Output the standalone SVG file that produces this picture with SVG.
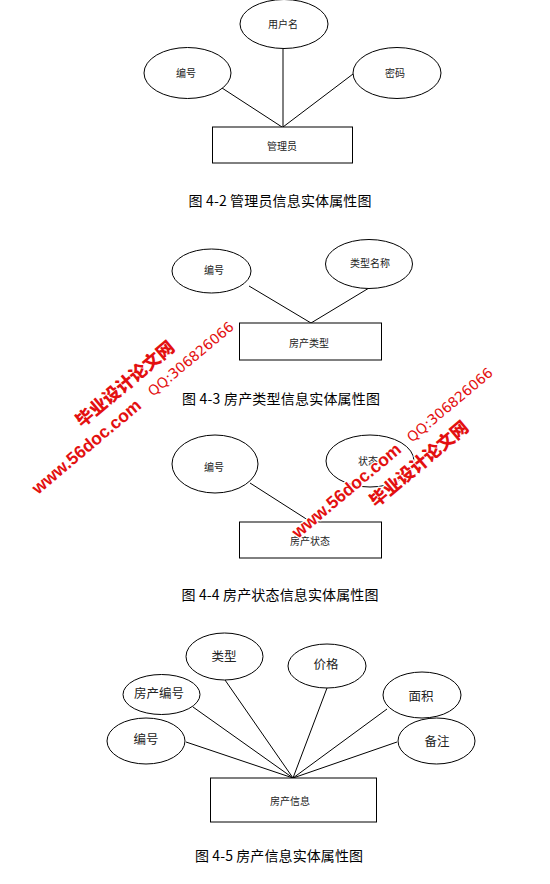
<svg xmlns="http://www.w3.org/2000/svg" width="550" height="884" viewBox="0 0 550 884">
<style>
.shape{fill:#fff;stroke:#000;stroke-width:1}
.conn line{stroke:#000;stroke-width:1}
.lbl{font-family:"Noto Sans CJK SC","Noto Sans",sans-serif;font-size:10px;fill:#222;text-anchor:middle;dominant-baseline:central}
.lbl2{font-size:12.5px}
.cap{font-family:"Noto Sans CJK SC","Noto Sans",sans-serif;font-size:14px;fill:#000;text-anchor:middle;dominant-baseline:central}
.wm{fill:#e31010;stroke:#fff;stroke-width:2.5;paint-order:stroke;stroke-linejoin:round}
.wmA{font-family:"Liberation Sans",Arial,sans-serif;font-weight:bold;font-size:17.5px}
.wmC{font-family:"Noto Sans CJK SC",sans-serif;font-weight:900;font-size:17.5px}
.wmQ{font-family:"DejaVu Sans",sans-serif;font-size:14px}
</style>
<rect width="550" height="884" fill="#fff"/>

<!-- Figure 4-2 -->
<g class="conn" id="conn42">
<line x1="222" y1="88" x2="282" y2="127"/>
<line x1="283" y1="49" x2="283" y2="127"/>
<line x1="353" y1="74" x2="283" y2="127"/>
</g>
<g id="n42_username"><ellipse class="shape" cx="284" cy="24" rx="44" ry="24.5"/><text class="lbl" x="283" y="23">用户名</text></g>
<g id="n42_id"><ellipse class="shape" cx="187.5" cy="73" rx="43.5" ry="25.5"/><text class="lbl" x="186" y="72">编号</text></g>
<g id="n42_pwd"><ellipse class="shape" cx="397" cy="73" rx="44" ry="25.5"/><text class="lbl" x="395" y="72">密码</text></g>
<g id="n42_admin"><rect class="shape" x="212.5" y="127" width="140" height="36"/><text class="lbl" x="282" y="145">管理员</text></g>
<text class="cap" x="280" y="200" textLength="183" lengthAdjust="spacing">图 4-2 管理员信息实体属性图</text>

<!-- Figure 4-3 -->
<g class="conn" id="conn43">
<line x1="249" y1="286" x2="311" y2="323"/>
<line x1="369" y1="288" x2="311" y2="323"/>
</g>
<g id="n43_id"><ellipse class="shape" cx="211.5" cy="271" rx="39.5" ry="22"/><text class="lbl" x="214" y="269">编号</text></g>
<g id="n43_name"><ellipse class="shape" cx="369" cy="264" rx="43.5" ry="24.5"/><text class="lbl" x="370" y="262">类型名称</text></g>
<g id="n43_type"><rect class="shape" x="239.5" y="323" width="142" height="37"/><text class="lbl" x="309" y="342">房产类型</text></g>
<text class="cap" x="281" y="398" textLength="198" lengthAdjust="spacing">图 4-3 房产类型信息实体属性图</text>

<!-- Figure 4-4 -->
<g class="conn" id="conn44">
<line x1="250" y1="483" x2="311" y2="522"/>
</g>
<g id="n44_id"><ellipse class="shape" cx="215" cy="464" rx="43" ry="29"/><text class="lbl" x="214" y="466">编号</text></g>
<g id="n44_state"><ellipse class="shape" cx="370" cy="461" rx="44" ry="26"/><text class="lbl" x="368" y="460">状态</text></g>
<g id="n44_hs"><rect class="shape" x="239.5" y="522" width="142" height="36"/><text class="lbl" x="310" y="540">房产状态</text></g>
<text class="cap" x="280" y="594" textLength="197" lengthAdjust="spacing">图 4-4 房产状态信息实体属性图</text>

<!-- Figure 4-5 -->
<g class="conn" id="conn45">
<line x1="225" y1="680" x2="293" y2="778"/>
<line x1="327" y1="688" x2="293" y2="778"/>
<line x1="193" y1="707" x2="293" y2="778"/>
<line x1="186" y1="742" x2="293" y2="778"/>
<line x1="387" y1="709" x2="293" y2="778"/>
<line x1="397" y1="742" x2="293" y2="778"/>
</g>
<g id="n45_type"><ellipse class="shape" cx="224.5" cy="656.5" rx="38.5" ry="23.5"/><text class="lbl lbl2" x="224" y="655">类型</text></g>
<g id="n45_price"><ellipse class="shape" cx="327" cy="666" rx="39" ry="22"/><text class="lbl lbl2" x="326" y="663">价格</text></g>
<g id="n45_hno"><ellipse class="shape" cx="161.5" cy="694.5" rx="38.5" ry="20"/><text class="lbl lbl2" x="159" y="692">房产编号</text></g>
<g id="n45_id"><ellipse class="shape" cx="146" cy="741" rx="39" ry="23"/><text class="lbl lbl2" x="146" y="738">编号</text></g>
<g id="n45_area"><ellipse class="shape" cx="422" cy="695" rx="39" ry="23"/><text class="lbl lbl2" x="421" y="695">面积</text></g>
<g id="n45_note"><ellipse class="shape" cx="436.5" cy="741" rx="38.5" ry="23"/><text class="lbl lbl2" x="437" y="740">备注</text></g>
<g id="n45_info"><rect class="shape" x="210.5" y="778" width="166" height="44"/><text class="lbl" x="290" y="800">房产信息</text></g>
<text class="cap" x="279" y="855" textLength="168" lengthAdjust="spacing">图 4-5 房产信息实体属性图</text>

<!-- Watermarks -->
<g class="wm">
<text class="wmA" transform="translate(38,495) rotate(-40)">www.56doc.com</text>
<text class="wmC" transform="translate(82,428) rotate(-40)">毕业设计论文网</text>
<text class="wmQ" transform="translate(153,397) rotate(-40)">QQ:306826066</text>
<text class="wmA" transform="translate(298,539) rotate(-40)">www.56doc.com</text>
<text class="wmC" transform="translate(376,508) rotate(-40)">毕业设计论文网</text>
<text class="wmQ" transform="translate(412,443) rotate(-40)">QQ:306826066</text>
</g>
</svg>
